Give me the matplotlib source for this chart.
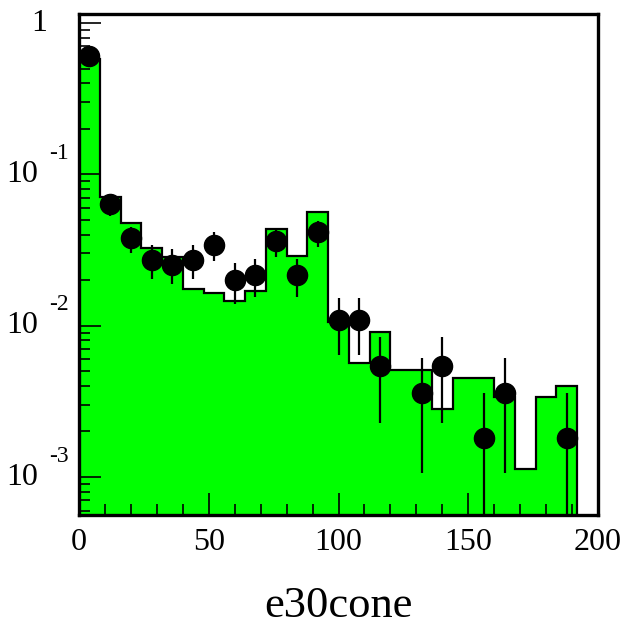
"""
e30cone distribution: normalised MC histogram (green) with data points on a log scale.
"""
import matplotlib
matplotlib.use("Agg")
import matplotlib.pyplot as plt
import matplotlib.transforms as mtrans
from matplotlib.ticker import MultipleLocator, LogLocator, NullFormatter

plt.rcParams["font.family"] = ["Liberation Serif", "DejaVu Serif"]

# ------------------------------------------------------------------
# Data
# ------------------------------------------------------------------
bin_edges = [0, 8, 16, 24, 32, 40, 48, 56, 64, 72, 80, 88, 96, 104,
             112, 120, 128, 136, 144, 152, 160, 168, 176, 184, 192]
mc_values = [0.578, 0.0711, 0.0475, 0.0328, 0.0284, 0.0175, 0.0164,
             0.0146, 0.0169, 0.0433, 0.0288, 0.0566, 0.0106, 0.00569,
             0.00908, 0.00507, 0.00507, 0.00281, 0.00453, 0.00453,
             0.00339, 0.00113, 0.00339, 0.00399]

data_x = [4, 12, 20, 28, 36, 44, 52, 60, 68, 76, 84, 92, 100, 108,
          116, 132, 140, 156, 164, 188]
data_y = [0.605, 0.0636, 0.0378, 0.0271, 0.0252, 0.0271, 0.0341, 0.0200,
          0.0216, 0.0364, 0.0216, 0.0418, 0.0109, 0.0109, 0.00543,
          0.0036, 0.00543, 0.0018, 0.0036, 0.0018]
data_hi = [0.638, 0.0743, 0.0451, 0.0341, 0.0319, 0.0339, 0.0418, 0.0258,
           0.0277, 0.0440, 0.0277, 0.0493, 0.0153, 0.0153, 0.00845,
           0.00608, 0.00845, 0.0036, 0.00608, 0.0036]
data_lo = [0.572, 0.0530, 0.0301, 0.0202, 0.0188, 0.0204, 0.0266, 0.0140,
           0.0155, 0.0283, 0.0155, 0.0329, 0.0064, 0.0064, 0.00228,
           0.00107, 0.00228, 1e-5, 0.00107, 1e-5]

y_decades = [1, 0.1, 0.01, 0.001]
y_exponents = ["", "-1", "-2", "-3"]

# ------------------------------------------------------------------
# Plot
# ------------------------------------------------------------------
fig = plt.figure(figsize=(6.25, 6.26), dpi=100)
ax = fig.add_axes([0.1264, 0.1773, 0.8304, 0.8003])

ax.stairs(mc_values, bin_edges, baseline=1e-6, fill=True,
          facecolor="#00ff00", edgecolor="black", linewidth=1.6)

err_lo = [y - lo for y, lo in zip(data_y, data_lo)]
err_hi = [hi - y for y, hi in zip(data_y, data_hi)]
ax.errorbar(data_x, data_y, yerr=[err_lo, err_hi], fmt="o", color="black",
            markersize=14.5, elinewidth=1.6, capsize=0, zorder=3)

ax.set_yscale("log")
ax.set_xlim(0, 200)
ax.set_ylim(5.61e-4, 1.147)

for side in ax.spines.values():
    side.set_linewidth(2.4)

ax.xaxis.set_major_locator(MultipleLocator(50))
ax.xaxis.set_minor_locator(MultipleLocator(10))
ax.yaxis.set_major_locator(LogLocator(base=10))
ax.yaxis.set_minor_locator(LogLocator(base=10, subs=range(2, 10)))
ax.yaxis.set_major_formatter(NullFormatter())
ax.yaxis.set_minor_formatter(NullFormatter())
ax.tick_params(which="both", direction="in", top=False, right=False,
               width=1.2, labelsize=23)
ax.tick_params(which="major", length=15.5)
ax.tick_params(which="minor", length=8)
ax.tick_params(axis="x", pad=9.5)

# ROOT-style decade labels: "10" with a detached exponent
ytrans = ax.get_yaxis_transform()
sup_trans = mtrans.offset_copy(ytrans, fig=fig, y=21, units="dots")
for val, expo in zip(y_decades, y_exponents):
    if expo == "":
        ax.text(-0.061, val, "1", transform=ytrans, ha="right",
                va="center", fontsize=23)
    else:
        ax.text(-0.079, val, "10", transform=ytrans, ha="right",
                va="center", fontsize=23)
        ax.text(-0.058, val, expo, transform=sup_trans, ha="left",
                va="center", fontsize=17)

ax.set_xlabel("e30cone", fontsize=32, labelpad=21)

fig.savefig("out.png", dpi=100)
plt.close(fig)
